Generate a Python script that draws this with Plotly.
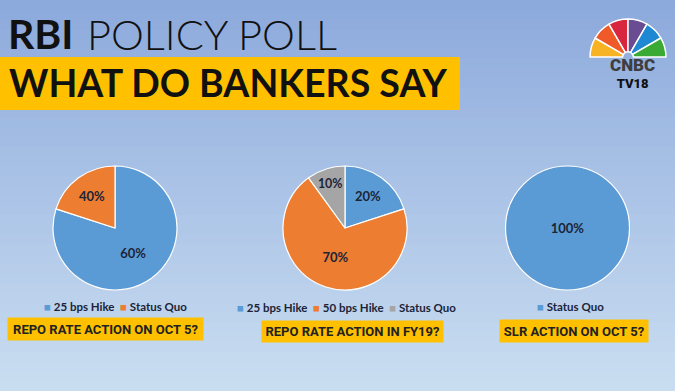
import plotly.graph_objects as go

W, H = 675, 391

# ---- data ----
pie1_labels = ["25 bps Hike", "Status Quo"]
pie1_shares = [80, 20]          # slice sizes as drawn
pie1_text = ["60%", "40%"]      # labels as printed

pie2_labels = ["25 bps Hike", "50 bps Hike", "Status Quo"]
pie2_shares = [20, 70, 10]
pie2_text = ["20%", "70%", "10%"]

pie3_labels = ["Status Quo"]
pie3_shares = [100]
pie3_text = ["100%"]

questions = ["REPO RATE ACTION ON OCT 5?", "REPO RATE ACTION IN FY19?", "SLR ACTION ON OCT 5?"]

BLUE, ORANGE, GRAY, YELLOW = "#5B9BD5", "#ED7D31", "#A5A5A5", "#FFC000"
NAVY = "#1B2438"

def px(x):
    return x / W

def py(y):
    return 1 - y / H

fig = go.Figure()

def add_pie(labels, shares, text, colors, cx, cy, r):
    fig.add_trace(go.Pie(
        labels=labels, values=shares, text=text, textinfo="text",
        textposition="inside", insidetextorientation="horizontal",
        textfont=dict(family="Lato", size=13, color=NAVY, weight="bold"),
        marker=dict(colors=colors, line=dict(color="white", width=1.2)),
        sort=False, direction="clockwise", rotation=0,
        showlegend=False, hoverinfo="label+text",
        domain=dict(x=[px(cx - r), px(cx + r)], y=[py(cy + r), py(cy - r)]),
    ))

add_pie(pie1_labels, pie1_shares, pie1_text, [BLUE, ORANGE], 115, 228, 62)
add_pie(pie2_labels, pie2_shares, pie2_text, [BLUE, ORANGE, GRAY], 345, 228, 62)
add_pie(pie3_labels, pie3_shares, pie3_text, [BLUE], 567.5, 228, 62)

# ---- logo peacock (decorative) ----
petals = ["#F8B324", "#F05A28", "#D7263D", "#6A4C93", "#1E88D2", "#3AAA35"]
fig.add_trace(go.Pie(
    values=[1] * 6 + [6], sort=False, direction="clockwise", rotation=-90,
    marker=dict(colors=petals + ["rgba(0,0,0,0)"],
                line=dict(color="white", width=[1.5] * 6 + [0])),
    hole=0.14, textinfo="none", hoverinfo="skip", showlegend=False,
    domain=dict(x=[px(590), px(666)], y=[py(95), py(19)]),
))

# ---- background gradient ----
top = (0x8C, 0xA9, 0xDC)
bot = (0xCA, 0xDE, 0xF1)
N = 40
shapes = []
for i in range(N):
    t = (i + 0.5) / N
    c = tuple(round(top[k] + (bot[k] - top[k]) * t) for k in range(3))
    shapes.append(dict(type="rect", xref="paper", yref="paper", layer="below",
                       x0=0, x1=1, y0=1 - (i + 1) / N - 0.002, y1=1 - i / N,
                       fillcolor="rgb(%d,%d,%d)" % c, line=dict(width=0)))
# title band
shapes.append(dict(type="rect", xref="paper", yref="paper", layer="below",
                   x0=px(0), x1=px(460), y0=py(110), y1=py(57),
                   fillcolor=YELLOW, line=dict(width=0)))

ann = []
ann.append(dict(text="<b>RBI</b>", x=px(6), y=py(34), xanchor="left", yanchor="middle",
                showarrow=False, font=dict(family="Lato", size=41, color="#111111")))
ann.append(dict(text="POLICY POLL", x=px(85), y=py(34), xanchor="left", yanchor="middle",
                showarrow=False, font=dict(family="Lato", size=41.5, color="#111111", weight=300)))
ann.append(dict(text="<b>WHAT DO BANKERS SAY</b>", x=px(7), y=py(82), xanchor="left",
                yanchor="middle", showarrow=False,
                font=dict(family="Lato", size=37.5, color="#111111")))

# logo text (one block, two lines)
ann.append(dict(text="<span style='font-size:17px;color:#3E3E3E'>CNBC</span><br>TV18",
                x=px(632), y=py(73), xanchor="center", yanchor="middle",
                showarrow=False, font=dict(family="Roboto", size=13, color="#111111", weight=900)))

# legends (as text rows)
def legend_row(labels, colors, cx, cy):
    parts = []
    for l, c in zip(labels, colors):
        parts.append("<span style='color:%s'>■</span> %s" % (c, l))
    ann.append(dict(text="  ".join(parts), x=px(cx), y=py(cy), xanchor="center",
                    yanchor="middle", showarrow=False,
                    font=dict(family="Lato", size=11.5, color=NAVY, weight="bold")))

legend_row(pie1_labels, [BLUE, ORANGE], 116, 306)
legend_row(pie2_labels, [BLUE, ORANGE, GRAY], 346, 307)
legend_row(pie3_labels, [BLUE], 570, 306)

# question boxes
boxes = [(105.5, 329, 195, 22), (352.5, 331.5, 181, 21), (574, 331, 148, 22)]
for q, (cx, cy, w, h) in zip(questions, boxes):
    ann.append(dict(text="<b>%s</b>" % q, x=px(cx), y=py(cy), xanchor="center",
                    yanchor="middle", showarrow=False, width=w, height=h,
                    bgcolor=YELLOW, borderpad=0,
                    font=dict(family="Roboto", size=13, color="#222222")))

fig.update_layout(
    width=W, height=H, margin=dict(l=0, r=0, t=0, b=0),
    paper_bgcolor="#C9DDF0", plot_bgcolor="rgba(0,0,0,0)",
    shapes=shapes, annotations=ann,
)

fig.write_html("out.html", config={"displayModeBar": False},
               post_script="document.body.style.margin='0';")
